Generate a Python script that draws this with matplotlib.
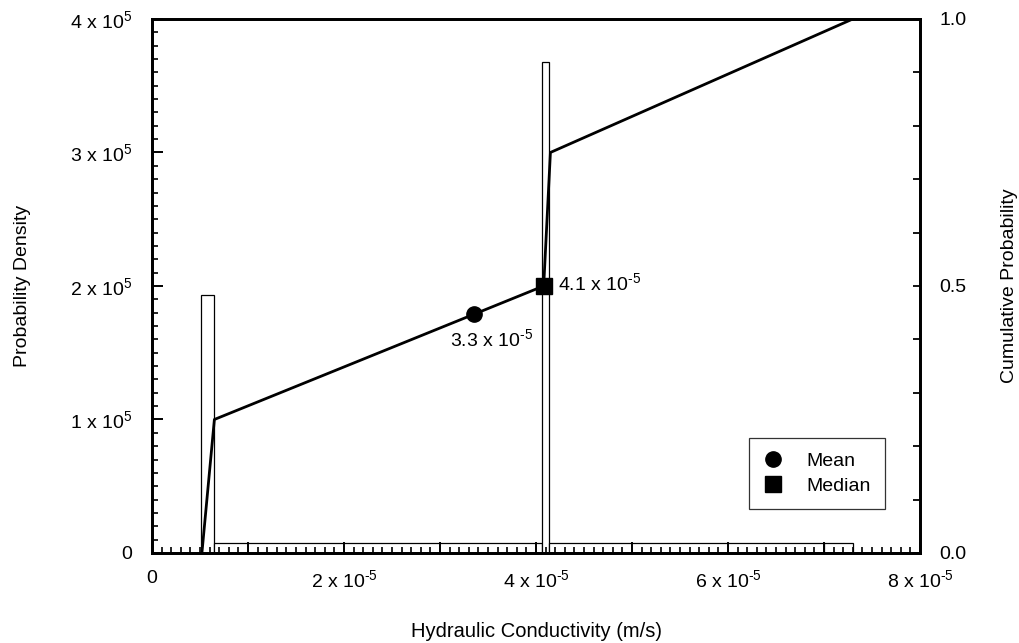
import matplotlib
matplotlib.use("Agg")
import matplotlib.pyplot as plt
import numpy as np
from matplotlib.ticker import MultipleLocator

plt.rcParams["font.family"] = ["Liberation Sans", "DejaVu Sans"]
plt.rcParams["mathtext.fontset"] = "custom"
plt.rcParams["mathtext.rm"] = "Liberation Sans"
plt.rcParams["mathtext.default"] = "rm"

# histogram bins (m/s) and probability density
bin_edges = [5.1e-6, 6.5e-6, 4.06e-5, 4.135e-5, 7.0e-5, 7.3e-5]
density = [1.93e5, 0.075e5, 3.68e5, 0.075e5, 0.075e5]

# cumulative probability curve
cdf_x = [5.2e-6, 6.5e-6, 4.08e-5, 4.15e-5, 7.3e-5]
cdf_y = [0.0, 0.25, 0.5, 0.75, 1.0]

mean_x = 3.35e-5
median_x = 4.08e-5
mean_label = "3.3 x 10$^{\u20105}$"
median_label = "4.1 x 10$^{\u20105}$"

x_ticks = [0, 1e-5, 2e-5, 3e-5, 4e-5, 5e-5, 6e-5, 7e-5, 8e-5]
x_labels = ["0", "", "2 x 10$^{\u20105}$", "", "4 x 10$^{\u20105}$", "",
            "6 x 10$^{\u20105}$", "", "8 x 10$^{\u20105}$"]
y_ticks = [0, 1e5, 2e5, 3e5, 4e5]
y_labels = ["0", "1 x 10$^{5}$", "2 x 10$^{5}$", "3 x 10$^{5}$", "4 x 10$^{5}$"]
y2_ticks = [0.0, 0.5, 1.0]
y2_labels = ["0.0", "0.5", "1.0"]

fig = plt.figure(figsize=(10.2, 6.43), dpi=100)
ax = fig.add_axes([0.149, 0.14, 0.753, 0.8305])
ax.set_axisbelow(False)
fs = 14

# histogram as outlined bars
lefts = np.array(bin_edges[:-1])
widths = np.diff(bin_edges)
ax.bar(lefts, density, width=widths, align="edge", facecolor="white",
       edgecolor="black", linewidth=0.9, zorder=1)

ax.set_xlim(0, 8e-5)
ax.set_ylim(0, 4e5)
ax.set_xticks(x_ticks)
ax.set_xticklabels(x_labels, fontsize=fs)
ax.set_yticks(y_ticks)
ax.set_yticklabels(y_labels, fontsize=fs)
ax.xaxis.set_minor_locator(MultipleLocator(1e-6))
ax.yaxis.set_minor_locator(MultipleLocator(1e4))
ax.tick_params(axis="x", which="major", direction="in", length=8, width=1.4, pad=12)
ax.tick_params(axis="x", which="minor", direction="in", length=4, width=1.2)
ax.tick_params(axis="y", which="major", direction="in", length=8, width=1.4, pad=14)
ax.tick_params(axis="y", which="minor", direction="in", length=4, width=1.2)
ax.tick_params(top=False, right=False, which="both")
for s in ax.spines.values():
    s.set_linewidth(2)

ax.set_xlabel("Hydraulic Conductivity (m/s)", fontsize=14.5, labelpad=22)
ax.set_ylabel("Probability Density", fontsize=fs, labelpad=28)

ax2 = ax.twinx()
ax2.set_ylim(0, 1.0)
ax2.set_yticks(y2_ticks)
ax2.set_yticklabels(y2_labels, fontsize=fs)
ax2.yaxis.set_minor_locator(MultipleLocator(0.1))
ax2.tick_params(axis="y", which="both", direction="in", length=5, width=1.3, pad=14)
ax2.set_ylabel("Cumulative Probability", fontsize=fs, labelpad=25)
for s in ax2.spines.values():
    s.set_linewidth(2)

ax2.plot(cdf_x, cdf_y, color="black", lw=2, zorder=3)

mean_y = np.interp(mean_x, cdf_x, cdf_y)
median_y = np.interp(median_x, cdf_x, cdf_y)
ax2.plot([mean_x], [mean_y], "o", color="black", ms=11, zorder=4, label="Mean")
ax2.plot([median_x], [median_y], "s", color="black", ms=11, zorder=4, label="Median")

ax2.annotate(mean_label, (mean_x, mean_y), xytext=(-17, -23),
             textcoords="offset points", fontsize=fs)
ax2.annotate(median_label, (median_x, median_y), xytext=(10, -3),
             textcoords="offset points", fontsize=fs)

leg = ax2.legend(loc="lower right", bbox_to_anchor=(0.955, 0.082), fontsize=fs,
                 frameon=True, fancybox=False, borderpad=0.75, handletextpad=1.2,
                 labelspacing=0.35, handlelength=1.0, borderaxespad=0)
leg.get_frame().set_edgecolor("black")
leg.get_frame().set_linewidth(0.9)

fig.savefig("out.png", dpi=100, facecolor="white")
